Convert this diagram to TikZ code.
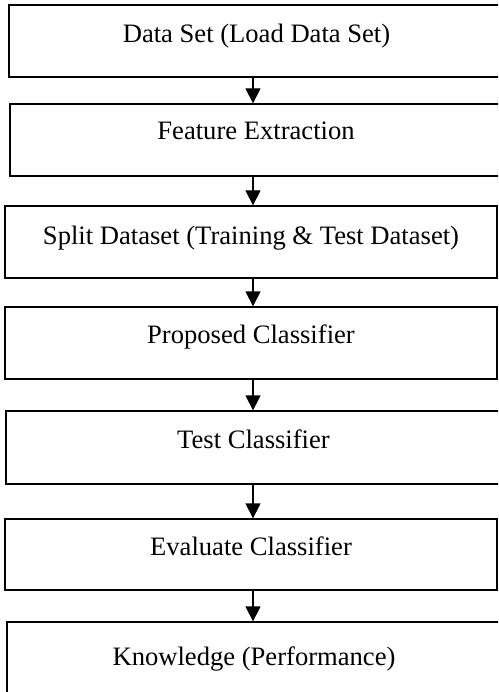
\documentclass[tikz,border=0pt]{standalone}
\usepackage{fontspec}
\setmainfont{Liberation Serif}
\usetikzlibrary{arrows.meta}
\begin{document}
\begin{tikzpicture}[x=1pt,y=-1pt,
  box/.style={draw=black, line width=1.3pt, rectangle, inner sep=0pt,
    text height=37pt, text depth=35pt, align=center,
    font=\fontsize{26.6}{30}\selectfont},
  flow/.style={-{Triangle[length=15pt,width=15pt]}, line width=1.3pt, shorten >=0pt}]
\clip (0,0) rectangle (498,692);
\fill[white] (0,0) rectangle (498,692);
\node[box, minimum width=495pt, text height=38pt, text depth=34pt] (b1) at (256.5,41) {Data Set (Load Data Set)};
\node[box, minimum width=492pt, text height=36pt, text depth=36pt] (b2) at (256,140) {Feature Extraction};
\node[box, minimum width=492pt, text height=38pt, text depth=34pt] (b3) at (251,242) {Split Dataset (Training \& Test Dataset)};
\node[box, minimum width=492pt, text height=36pt, text depth=36pt] (b4) at (251,343) {Proposed Classifier};
\node[box, minimum width=495pt, text height=37pt, text depth=36pt] (b5) at (253.5,447.5) {Test Classifier};
\node[box, minimum width=492pt, text height=36pt, text depth=35pt] (b6) at (251,554.5) {Evaluate Classifier};
\node[box, minimum width=494pt, text height=43pt, text depth=35pt] (b7) at (254,661) {Knowledge (Performance)};
\draw[flow] (253,0 |- b1.south) -- (253,0 |- b2.north);
\draw[flow] (253,0 |- b2.south) -- (253,0 |- b3.north);
\draw[flow] (253,0 |- b3.south) -- (253,0 |- b4.north);
\draw[flow] (253,0 |- b4.south) -- (253,0 |- b5.north);
\draw[flow] (253,0 |- b5.south) -- (253,0 |- b6.north);
\draw[flow] (253,0 |- b6.south) -- (253,0 |- b7.north);
\end{tikzpicture}
\end{document}
